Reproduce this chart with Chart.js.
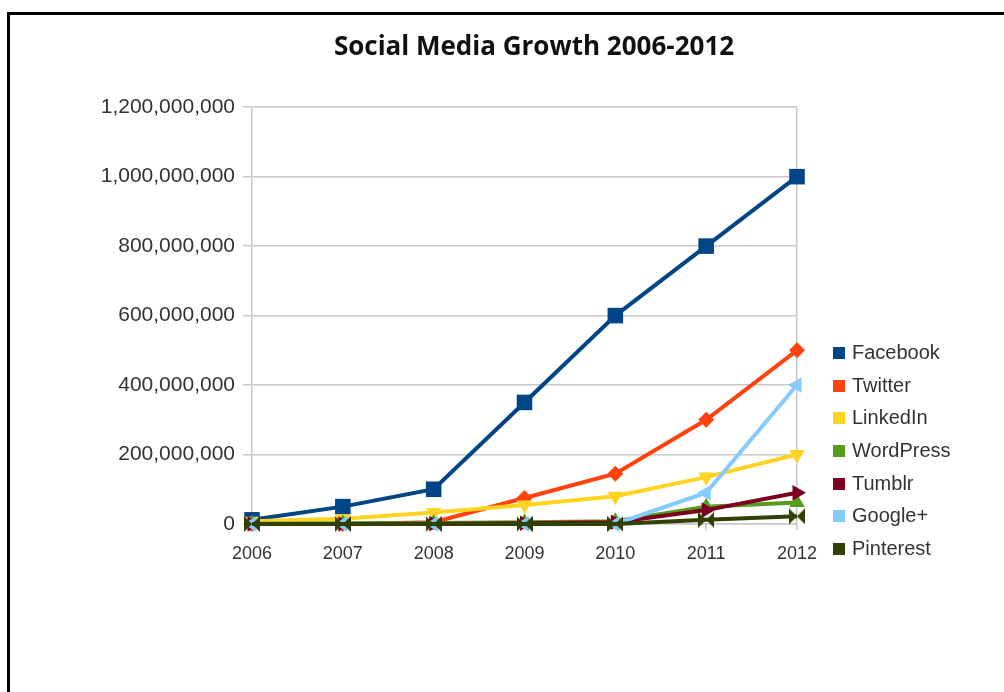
<!DOCTYPE html>
<html>
<head>
<meta charset="utf-8">
<script src="https://cdn.jsdelivr.net/npm/chart.js@4.4.1/dist/chart.umd.min.js"></script>
<style>
  body { margin: 0; background: #fff; width: 1004px; height: 692px; overflow: hidden; position: relative; }
  #frame { position: absolute; left: 7px; top: 12px; width: 1100px; height: 800px; border-top: 3px solid #000; border-left: 3px solid #000; }
  #wrap { position: absolute; left: 64px; top: 0; width: 940px; height: 692px; }
  #legend { position: absolute; left: 833px; top: 339px; font-family: "Liberation Sans", Arial, sans-serif; font-size: 20px; color: #333; }
  #legend div { height: 32.7px; line-height: 26px; white-space: nowrap; }
  #legend span.box { display: inline-block; width: 12px; height: 12px; margin-right: 7px; vertical-align: 0px; }
</style>
</head>
<body>
<div id="frame"></div>
<div id="wrap"><canvas id="growth-chart"></canvas></div>
<div id="legend"></div>
<script>
  var years = ['2006', '2007', '2008', '2009', '2010', '2011', '2012'];
  var seriesNames = ['Facebook', 'Twitter', 'LinkedIn', 'WordPress', 'Tumblr', 'Google+', 'Pinterest'];
  var facebook = [12000000, 50000000, 100000000, 350000000, 600000000, 800000000, 1000000000];
  var twitter = [0, 0, 5000000, 75000000, 145000000, 300000000, 500000000];
  var linkedin = [8000000, 15000000, 33000000, 55000000, 80000000, 135000000, 200000000];
  var wordpress = [1000000, 2000000, 3000000, 5000000, 8000000, 50000000, 62000000];
  var tumblr = [0, 0, 1000000, 2000000, 5000000, 40000000, 90000000];
  var googleplus = [0, 0, 0, 0, 0, 90000000, 400000000];
  var pinterest = [0, 0, 0, 0, 0, 12000000, 22000000];
  var yTicks = [0, 200000000, 400000000, 600000000, 800000000, 1000000000, 1200000000];

  var colors = ['#004586', '#ff420e', '#ffd320', '#579d1c', '#7e0021', '#83caff', '#314004'];

  // bow tie marker for the last series
  function bowtie(color) {
      var c = document.createElement('canvas');
      c.width = 16; c.height = 16;
      var g = c.getContext('2d');
      g.fillStyle = color;
      g.beginPath();
      g.moveTo(0, 0); g.lineTo(8, 8); g.lineTo(0, 16); g.closePath();
      g.moveTo(16, 0); g.lineTo(8, 8); g.lineTo(16, 16); g.closePath();
      g.fill();
      return c;
  }

  var markers = [
      {style: 'rect', radius: 11, rot: 0},
      {style: 'rectRot', radius: 8, rot: 0},
      {style: 'triangle', radius: 9, rot: 180},
      {style: 'triangle', radius: 9, rot: 0},
      {style: 'triangle', radius: 9, rot: 90},
      {style: 'triangle', radius: 9, rot: 270},
      {style: bowtie(colors[6]), radius: 8, rot: 0}
  ];

  var values = [facebook, twitter, linkedin, wordpress, tumblr, googleplus, pinterest];
  var datasets = [];
  for (var i = 0; i < values.length; i++) {
      datasets.push({
          label: seriesNames[i],
          data: values[i],
          borderColor: colors[i],
          backgroundColor: colors[i],
          borderWidth: 4,
          pointStyle: markers[i].style,
          pointRadius: markers[i].radius,
          pointRotation: markers[i].rot,
          pointBorderWidth: 0,
          tension: 0,
          clip: false,
          order: values.length - i
      });
  }

  var legend = document.getElementById('legend');
  for (var j = 0; j < seriesNames.length; j++) {
      var row = document.createElement('div');
      row.innerHTML = '<span class="box" style="background:' + colors[j] + '"></span>' + seriesNames[j];
      legend.appendChild(row);
  }

  var gridColor = '#c8c8c8';
  var config = {
      type: 'line',
      data: { labels: years, datasets: datasets },
      options: {
          responsive: true,
          maintainAspectRatio: false,
          animation: false,
          layout: { padding: 0 },
          plugins: {
              legend: { display: false },
              tooltip: { enabled: false },
              title: {
                  display: true,
                  text: 'Social Media Growth 2006-2012',
                  color: '#111',
                  font: { family: 'Open Sans', size: 26, weight: 'bold' },
                  padding: { top: 32, bottom: 44 }
              }
          },
          scales: {
              x: {
                  offset: false,
                  grid: {
                      color: function(ctx) { return ctx.index === years.length - 1 ? gridColor : 'rgba(0,0,0,0)'; },
                      tickColor: gridColor,
                      tickLength: 6,
                      lineWidth: 1.5
                  },
                  border: { color: gridColor, width: 1.5 },
                  ticks: {
                      color: '#333',
                      padding: 13,
                      maxRotation: 0,
                      font: { family: 'Liberation Sans', size: 18 }
                  },
                  afterFit: function(scale) { scale.height = 168; }
              },
              y: {
                  min: 0,
                  max: 1200000000,
                  afterBuildTicks: function(scale) {
                      scale.ticks = yTicks.map(function(v) { return {value: v}; });
                  },
                  grid: { color: gridColor, tickColor: gridColor, tickLength: 9, lineWidth: 1.5 },
                  border: { color: gridColor, width: 1.5 },
                  ticks: {
                      color: '#333',
                      padding: 8,
                      font: { family: 'Liberation Sans', size: 21 },
                      callback: function(v) { return Number(v).toLocaleString('en-US'); }
                  },
                  afterFit: function(scale) { scale.width = 188; }
              },
              // empty axis that keeps room for the legend on the right
              side: {
                  type: 'linear',
                  position: 'right',
                  display: true,
                  grid: { display: false },
                  border: { display: false },
                  ticks: { display: false },
                  afterFit: function(scale) { scale.width = 207; }
              }
          }
      }
  };

  window.onload = function() {
      var ctx = document.getElementById('growth-chart').getContext('2d');
      window.growthChart = new Chart(ctx, config);
  };
</script>
</body>
</html>
